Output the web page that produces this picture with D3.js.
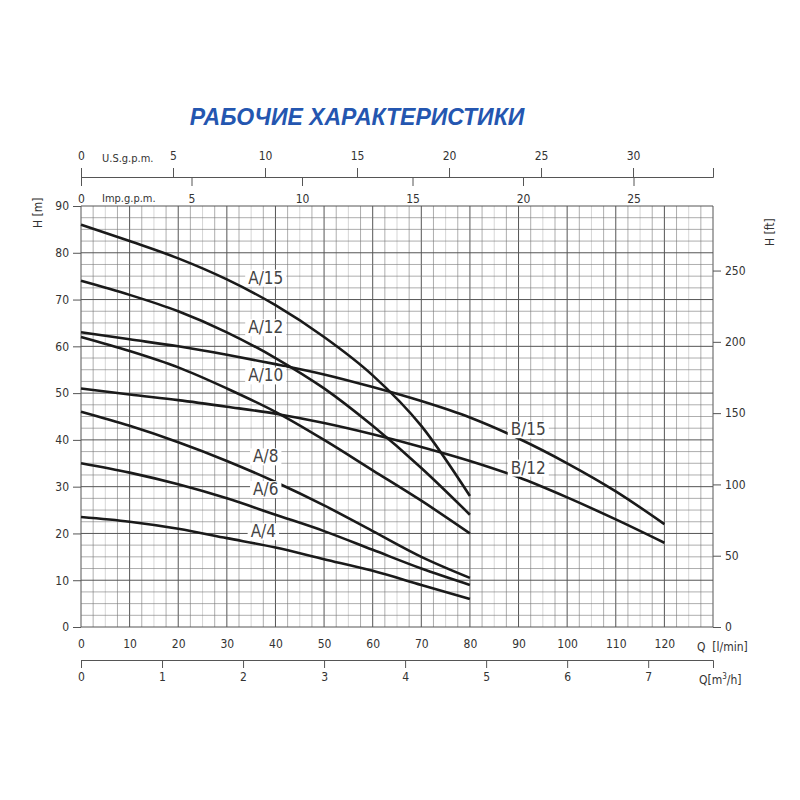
<!DOCTYPE html>
<html><head><meta charset="utf-8">
<script src="https://cdn.jsdelivr.net/npm/d3@7"></script>
<style>body{margin:0;background:#fff}text{font-family:"DejaVu Sans Condensed","DejaVu Sans",sans-serif;fill:#333}</style>
</head><body><svg id="c" width="800" height="800"></svg>
<script>
// Data
let qA = [0, 10, 20, 30, 40, 50, 60, 70, 80];
let qB = [0, 10, 20, 30, 40, 50, 60, 70, 80, 90, 100, 110, 120];
let hA15 = [86, 82.5, 78.8, 74.3, 68.8, 62, 53.8, 43, 28];
let hA12 = [74, 71, 67.5, 63, 57.5, 51, 43, 34, 24];
let hA10 = [62, 59, 55.5, 51, 46, 40, 33.5, 27, 20];
let hA8 = [46, 43, 39.5, 35.5, 31, 26, 20.5, 15, 10.5];
let hA6 = [35, 33, 30.5, 27.5, 24, 20.5, 16.5, 12.5, 9];
let hA4 = [23.5, 22.5, 21, 19, 17, 14.5, 12, 9, 6];
let hB15 = [63, 61.5, 60, 58.2, 56.2, 54, 51.3, 48.3, 44.8, 40.3, 35, 29, 22];
let hB12 = [51, 49.7, 48.5, 47.1, 45.6, 43.6, 41.2, 38.5, 35.5, 32, 27.7, 23, 18];
let curves = [
  {name: 'A/15', q: qA, h: hA15, lq: 38, lh: 73.4},
  {name: 'A/12', q: qA, h: hA12, lq: 38, lh: 62.8},
  {name: 'A/10', q: qA, h: hA10, lq: 38, lh: 52.5},
  {name: 'A/8', q: qA, h: hA8, lq: 38, lh: 35.2},
  {name: 'A/6', q: qA, h: hA6, lq: 38, lh: 28.2},
  {name: 'A/4', q: qA, h: hA4, lq: 37.5, lh: 19.2},
  {name: 'B/15', q: qB, h: hB15, lq: 92, lh: 41},
  {name: 'B/12', q: qB, h: hB12, lq: 92, lh: 32.8}
];

let svg = d3.select('#c');
let x = d3.scaleLinear().domain([0, 130]).range([81, 713]);
let y = d3.scaleLinear().domain([0, 90]).range([627, 206]);

// Grid
let grid = svg.append('g');
d3.range(0, 130.1, 2.5).forEach(v => {
  grid.append('line').attr('x1', x(v)).attr('x2', x(v)).attr('y1', y(0)).attr('y2', y(90))
    .attr('stroke', v % 10 === 0 ? '#555' : (v % 5 === 0 ? '#bbb' : '#777')).attr('stroke-width', v % 10 === 0 ? 1 : 0.6);
});
d3.range(0, 90.1, 2.5).forEach(v => {
  grid.append('line').attr('x1', x(0)).attr('x2', x(130)).attr('y1', y(v)).attr('y2', y(v))
    .attr('stroke', v % 10 === 0 ? '#555' : '#777').attr('stroke-width', v % 10 === 0 ? 1 : 0.6);
});

// Axes
let fs = 12;
let ax = (g) => g.call(s => s.select('.domain').attr('stroke', '#555')).call(s => s.selectAll('line').attr('stroke', '#555'))
  .call(s => s.selectAll('text').style('font-size', fs + 'px').attr('fill', '#333'));
svg.append('g').attr('transform', 'translate(0,627)').call(d3.axisBottom(x).tickValues(d3.range(0, 121, 10)).tickSize(0).tickPadding(12)).call(ax)
  .select('.domain').remove();
svg.append('g').attr('transform', 'translate(81,0)').call(d3.axisLeft(y).tickValues(d3.range(0, 91, 10)).tickSize(8).tickPadding(4)).call(ax)
  .select('.domain').remove();
let yft = d3.scaleLinear().domain([0, 90 / 0.3048]).range([627, 206]);
svg.append('g').attr('transform', 'translate(713,0)').call(d3.axisRight(yft).tickValues(d3.range(0, 251, 50)).tickSize(8).tickPadding(4)).call(ax)
  .select('.domain').remove();

let m3 = d3.scaleLinear().domain([0, 130 * 0.06]).range([81, 713]);
svg.append('g').attr('transform', 'translate(0,660)').call(d3.axisBottom(m3).tickValues(d3.range(0, 8)).tickSizeOuter(8).tickSize(8).tickPadding(4)).call(ax);
let us = d3.scaleLinear().domain([0, 130 / 3.785]).range([81, 713]);
svg.append('g').attr('transform', 'translate(0,177)').call(d3.axisTop(us).tickValues(d3.range(0, 31, 5)).tickSizeOuter(0).tickSize(9).tickPadding(8)).call(ax);
let imp = d3.scaleLinear().domain([0, 130 / 4.546]).range([81, 713]);
svg.append('g').attr('transform', 'translate(0,177)').call(d3.axisBottom(imp).tickValues(d3.range(0, 26, 5)).tickSizeOuter(0).tickSize(9).tickPadding(8)).call(ax)
  .select('.domain').remove();

svg.append('text').attr('x', 102).attr('y', 162).style('font-size', '11px').text('U.S.g.p.m.');
svg.append('text').attr('x', 102).attr('y', 202).style('font-size', '11px').text('Imp.g.p.m.');
svg.append('text').attr('x', 697).attr('y', 651).style('font-size', '12px').html('Q &#160;[l/min]');
svg.append('text').attr('x', 699).attr('y', 684).style('font-size', '12px').html('Q[m<tspan dy="-5" font-size="8">3</tspan><tspan dy="5">/h]</tspan>');
svg.append('text').attr('transform', 'translate(42,228) rotate(-90)').style('font-size', '12px').text('H  [m]');
svg.append('text').attr('transform', 'translate(774,246) rotate(-90)').style('font-size', '12px').text('H  [ft]');

svg.append('text').attr('x', 357).attr('y', 125).attr('text-anchor', 'middle')
  .style('font-size', '23px').style('font-weight', 'bold').style('font-style', 'italic')
  .style('font-family', 'Liberation Sans, Arial, sans-serif').style('fill', '#2456b0').text('РАБОЧИЕ ХАРАКТЕРИСТИКИ');

// Curves
let line = d3.line().x(d => x(d[0])).y(d => y(d[1])).curve(d3.curveMonotoneX);
curves.forEach(c => {
  svg.append('path').attr('d', line(c.q.map((q, i) => [q, c.h[i]])))
    .attr('fill', 'none').attr('stroke', '#1a1a1a').attr('stroke-width', 2.6);
});
curves.forEach(c => {
  let g = svg.append('g');
  let r = g.append('rect').attr('fill', '#fff');
  let t = g.append('text').attr('x', x(c.lq)).attr('y', y(c.lh)).attr('text-anchor', 'middle')
    .style('font-size', '17px').style('fill', '#444').text(c.name);
  let b = t.node().getBBox();
  r.attr('x', b.x - 3).attr('y', b.y + 2).attr('width', b.width + 6).attr('height', b.height - 3);
});
</script></body></html>
